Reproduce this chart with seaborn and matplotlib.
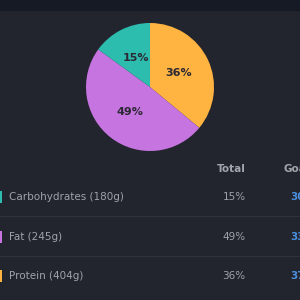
import matplotlib.pyplot as plt
import seaborn as sns

# macro data
nutrients = ['Carbohydrates', 'Fat', 'Protein']
grams = [180, 245, 404]
total_pct = [15, 49, 36]
goal_pct = [30, 33, 37]
colors = ['#2dbdaf', '#c674df', '#ffb340']

sns.set_theme(style='dark')
plt.rcParams['font.family'] = ['DejaVu Sans']

bg = '#23252e'
fig = plt.figure(figsize=(3, 3), dpi=100, facecolor=bg)

# background / table axes in pixel coords
ax = fig.add_axes([0, 0, 1, 1])
ax.set_xlim(0, 300)
ax.set_ylim(300, 0)
ax.set_facecolor(bg)
ax.axis('off')
ax.axhspan(0, 10, color='#161a25', zorder=0)

# table
ax.text(231, 169, 'Total', color='#a3a5ad', fontsize=7.5, fontweight='bold', ha='center', va='center')
ax.text(284, 169, 'Goal', color='#a3a5ad', fontsize=7.5, fontweight='bold', ha='left', va='center')
row_y = [197, 237, 276]
for i, y in enumerate(row_y):
    ax.add_patch(plt.Rectangle((0, y - 6), 2.2, 12, color=colors[i], lw=0))
    ax.text(9, y, f'{nutrients[i]} ({grams[i]}g)', color='#a0a2ab', fontsize=7.5, ha='left', va='center')
    ax.text(234, y, f'{total_pct[i]}%', color='#a0a2ab', fontsize=7.5, ha='center', va='center')
    ax.text(290, y, f'{goal_pct[i]}%', color='#4a8fe0', fontsize=7.5, fontweight='bold', ha='left', va='center')
for y in [216, 256]:
    ax.plot([0, 300], [y, y], color='#30333d', lw=0.8)

# pie
pax = fig.add_axes([86 / 300, 1 - 151 / 300, 128 / 300, 128 / 300])
order = [2, 1, 0]
wedges, texts, autotexts = pax.pie(
    [total_pct[i] for i in order],
    colors=[colors[i] for i in order],
    startangle=90, counterclock=False,
    autopct='%d%%', pctdistance=0.5,
    wedgeprops=dict(linewidth=0),
    textprops=dict(color='#2b2833', fontsize=8, fontweight='bold'),
)
pax.set_xlim(-1, 1)
pax.set_ylim(-1, 1)
pax.set_aspect('equal')
for w in wedges:
    w.set_clip_on(False)

fig.savefig('out.png', dpi=100, facecolor=bg)
